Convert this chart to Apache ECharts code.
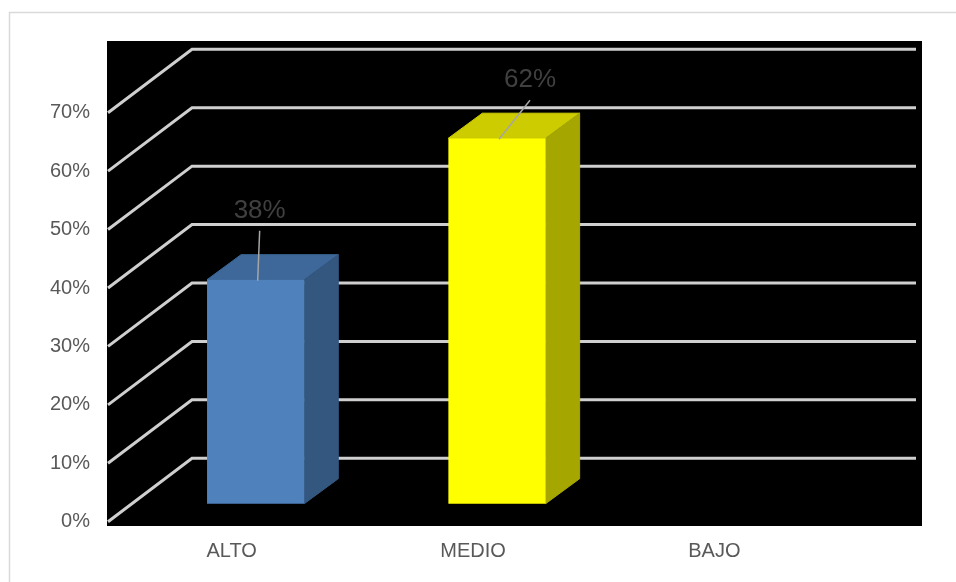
<!DOCTYPE html>
<html>
<head>
<meta charset="utf-8">
<script src="https://cdn.jsdelivr.net/npm/echarts@6/dist/echarts.min.js"></script>
<style>
html,body{margin:0;padding:0;background:#fff;}
#chart{width:956px;height:582px;}
</style>
</head>
<body>
<div id="chart"></div>
<script>
// ---- data ----
var categories = ['ALTO', 'MEDIO', 'BAJO'];
var values = [0.38, 0.62, 0];
var yTicks = [0, 0.1, 0.2, 0.3, 0.4, 0.5, 0.6, 0.7];

// ---- style ----
var frontColors = ['#4f81bd', '#ffff00', '#9bbb59'];
var topColors = ['#3d6899', '#cccc00', '#7d9948'];
var sideColors = ['#345780', '#a6a600', '#627a38'];
var labelOffsets = [[4, -49], [33, -38], [0, -40]];
var FLOOR_DX = 84, FLOOR_DY = -63.4;
var FRONT_DX = 27, FRONT_DY = -18;
var BAR_DX = 34, BAR_DY = -25;
var PERSP = 1.009; // bars sit nearer the viewer than the back wall
var FONT = '"Liberation Sans", Arial, sans-serif';

var chart = echarts.init(document.getElementById('chart'));

function pct(v) { return Math.round(v * 100) + '%'; }

var option = {
  animation: false,
  backgroundColor: '#ffffff',
  graphic: [
    { type: 'rect', z: 0, shape: { x: 9.5, y: 12.5, width: 1000, height: 1000 },
      style: { fill: 'none', stroke: '#d9d9d9', lineWidth: 1.5 } },
    { type: 'rect', z: 0, shape: { x: 107, y: 41, width: 815, height: 485 },
      style: { fill: '#000000' } }
  ],
  grid: { left: 108, right: 124, top: 112.7, bottom: 60.3, containLabel: false },
  xAxis: {
    type: 'category',
    data: categories,
    axisLine: { show: false },
    axisTick: { show: false },
    splitLine: { show: false },
    axisLabel: { color: '#595959', fontSize: 20, fontFamily: FONT, margin: 20, padding: [0, 0, 0, 6] }
  },
  yAxis: {
    type: 'value',
    min: 0, max: 0.7, interval: 0.1,
    axisLine: { show: false },
    axisTick: { show: false },
    splitLine: { show: false },
    axisLabel: { color: '#595959', fontSize: 20, fontFamily: FONT, margin: 18, formatter: pct }
  },
  series: [
    {
      type: 'custom',
      z: 1,
      silent: true,
      data: yTicks.map(function (t) { return [0, t]; }),
      renderItem: function (params, api) {
        var cs = params.coordSys;
        var y = api.coord([0, api.value(1)])[1];
        var x0 = cs.x;
        var pts = [
          [x0, y],
          [x0 + FLOOR_DX, y + FLOOR_DY],
          [x0 + cs.width + FLOOR_DX, y + FLOOR_DY]
        ];
        return {
          type: 'polyline',
          shape: { points: pts },
          style: { stroke: '#cfcfcf', lineWidth: 3, fill: 'none' }
        };
      }
    },
    {
      type: 'custom',
      z: 2,
      data: values.map(function (v, i) { return [i, v]; }),
      renderItem: function (params, api) {
        var idx = api.value(0);
        var v = api.value(1);
        if (!(v > 0)) return null;
        var base = api.coord([idx, 0]);
        var top = api.coord([idx, v]);
        var band = api.size([1, 0])[0];
        var w = band * 0.403;
        var cx = base[0] + FRONT_DX;
        var by = base[1] + FRONT_DY;
        var ty = by - (base[1] - top[1]) * PERSP;
        var x1 = cx - w / 2, x2 = cx + w / 2;
        var off = labelOffsets[idx];
        return {
          type: 'group',
          children: [
            { type: 'polygon', shape: { points: [[x1, ty], [x2, ty], [x2 + BAR_DX, ty + BAR_DY], [x1 + BAR_DX, ty + BAR_DY]] },
              style: { fill: topColors[idx], stroke: topColors[idx], lineWidth: 1 } },
            { type: 'polygon', shape: { points: [[x2, ty], [x2 + BAR_DX, ty + BAR_DY], [x2 + BAR_DX, by + BAR_DY], [x2, by]] },
              style: { fill: sideColors[idx], stroke: sideColors[idx], lineWidth: 1 } },
            { type: 'rect', shape: { x: x1, y: ty, width: w, height: by - ty },
              style: { fill: frontColors[idx] } },
            { type: 'line', shape: { x1: cx + 2, y1: ty + 1, x2: cx + off[0], y2: ty + off[1] },
              style: { stroke: '#a6a6a6', lineWidth: 1.5 } },
            { type: 'text', style: { text: pct(v), x: cx + off[0], y: ty + off[1] - 20,
              fill: '#404040', fontSize: 26, fontFamily: FONT, textAlign: 'center', textVerticalAlign: 'middle' } }
          ]
        };
      }
    }
  ]
};

chart.setOption(option);
</script>
</body>
</html>
